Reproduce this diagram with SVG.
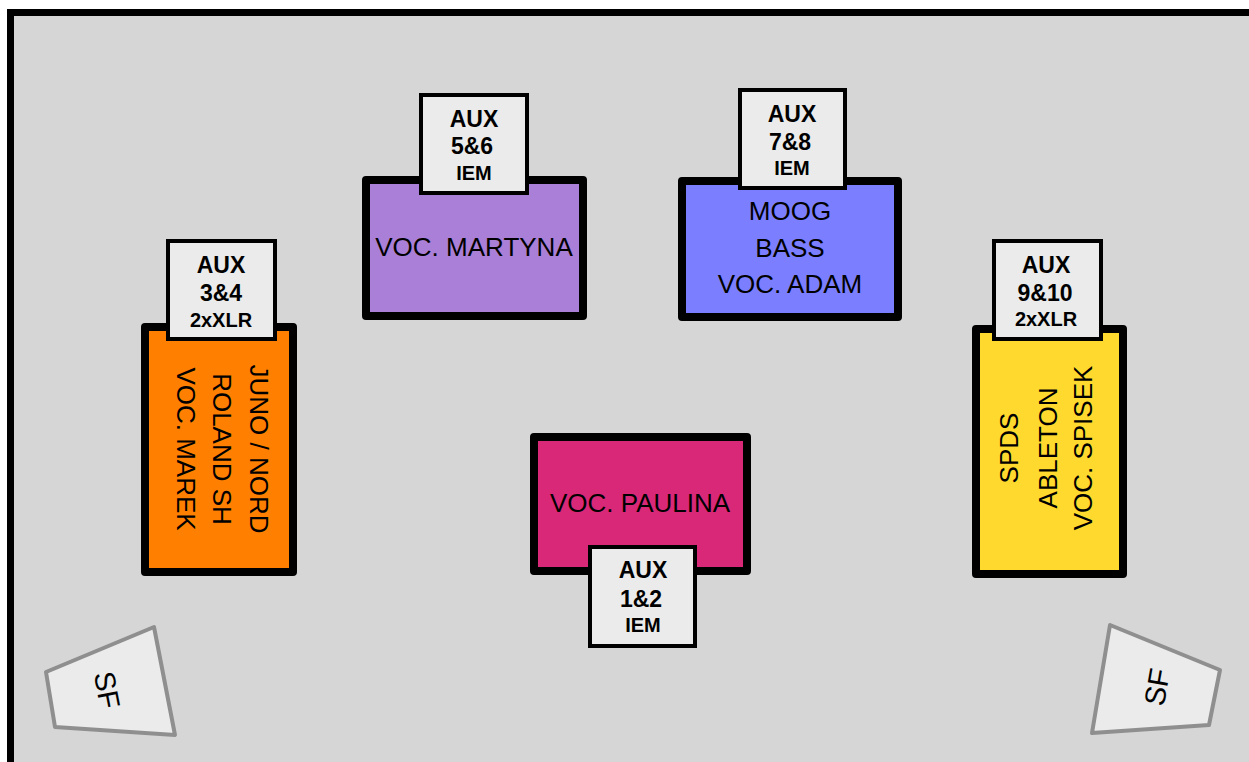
<svg xmlns="http://www.w3.org/2000/svg" width="1249" height="762" viewBox="0 0 1249 762">
<style>
.stage{fill:#d6d6d6;stroke:#000;stroke-width:7}
.node{stroke:#000;stroke-width:8;stroke-linejoin:round}
.aux{fill:#ebebeb;stroke:#000;stroke-width:4}
.auxt{font-family:"Liberation Sans",Arial,sans-serif;font-weight:bold;font-size:23px;fill:#000;text-anchor:middle}
.auxs{font-size:20px}
.lbl{font-family:"Liberation Sans",Arial,sans-serif;font-size:26px;fill:#000;text-anchor:middle}
.sf{fill:#ebebeb;stroke:#8f8f8f;stroke-width:4;stroke-linejoin:round}
.sft{font-family:"Liberation Sans",Arial,sans-serif;font-size:29px;fill:#000;text-anchor:middle}
</style>
<rect class="stage" x="10.5" y="12.5" width="1260" height="780"/>
<g id="connectors"></g>
<g id="node-marek">
<rect class="node" x="145" y="327" width="148" height="245" fill="#ff7f00"/>
<g transform="translate(219,449) rotate(90)">
<text class="lbl" x="0" y="-31">JUNO / NORD</text>
<text class="lbl" x="0" y="6">ROLAND SH</text>
<text class="lbl" x="0" y="42">VOC. MAREK</text>
</g>
</g>
<g id="aux-3-4">
<rect class="aux" x="168" y="241" width="107" height="98"/>
<text class="auxt" x="221" y="273">AUX</text>
<text class="auxt" x="221" y="301">3&amp;4</text>
<text class="auxt auxs" x="221" y="327">2xXLR</text>
</g>
<g id="node-martyna">
<rect class="node" x="366" y="180" width="217" height="136" fill="#a97fd7"/>
<text class="lbl" x="474" y="256">VOC. MARTYNA</text>
</g>
<g id="aux-5-6">
<rect class="aux" x="421" y="95" width="106" height="98"/>
<text class="auxt" x="474" y="127">AUX</text>
<text class="auxt" x="472" y="154">5&amp;6</text>
<text class="auxt auxs" x="474" y="180">IEM</text>
</g>
<g id="node-adam">
<rect class="node" x="682" y="181" width="216" height="136" fill="#7b7fff"/>
<text class="lbl" x="790" y="220">MOOG</text>
<text class="lbl" x="790" y="257">BASS</text>
<text class="lbl" x="790" y="293">VOC. ADAM</text>
</g>
<g id="aux-7-8">
<rect class="aux" x="740" y="90" width="105" height="98"/>
<text class="auxt" x="792" y="122">AUX</text>
<text class="auxt" x="790" y="150">7&amp;8</text>
<text class="auxt auxs" x="792" y="175">IEM</text>
</g>
<g id="node-spisek">
<rect class="node" x="976" y="329" width="147" height="245" fill="#ffd92e"/>
<g transform="translate(1055,448) rotate(-90)">
<text class="lbl" x="0" y="-37">SPDS</text>
<text class="lbl" x="0" y="2">ABLETON</text>
<text class="lbl" x="0" y="37">VOC. SPISEK</text>
</g>
</g>
<g id="aux-9-10">
<rect class="aux" x="994" y="241" width="107" height="98"/>
<text class="auxt" x="1046" y="273">AUX</text>
<text class="auxt" x="1045" y="301">9&amp;10</text>
<text class="auxt auxs" x="1046" y="326">2xXLR</text>
</g>
<g id="node-paulina">
<rect class="node" x="534" y="437" width="213" height="134" fill="#d92877"/>
<text class="lbl" x="640" y="512">VOC. PAULINA</text>
</g>
<g id="aux-1-2">
<rect class="aux" x="590" y="547" width="105" height="99"/>
<text class="auxt" x="643" y="578">AUX</text>
<text class="auxt" x="641" y="607">1&amp;2</text>
<text class="auxt auxs" x="643" y="632">IEM</text>
</g>
<g id="sf-left">
<polygon class="sf" points="46,672 154,627 175,735 55,727"/>
<text class="sft" transform="translate(107,690) rotate(79)" x="0" y="10">SF</text>
</g>
<g id="sf-right">
<polygon class="sf" points="1110,625 1220,670 1209,725 1092,733"/>
<text class="sft" transform="translate(1157,687) rotate(-80)" x="0" y="10">SF</text>
</g>
</svg>
